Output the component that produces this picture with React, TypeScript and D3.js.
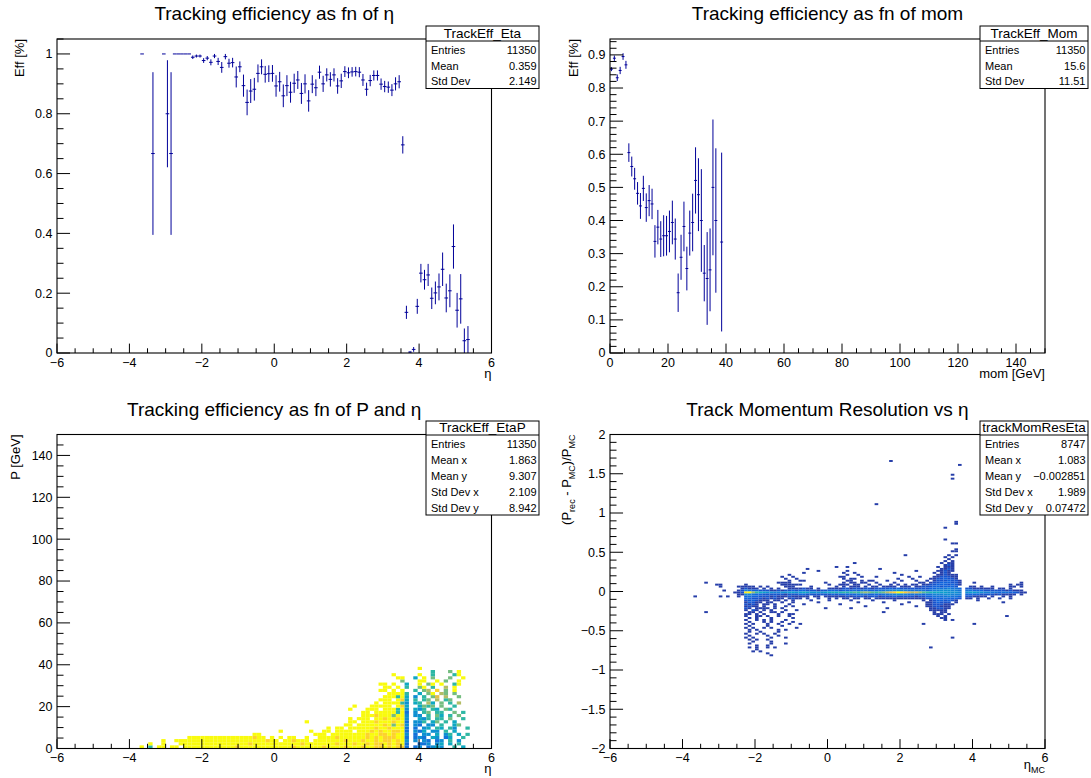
import React from "react";
import * as d3 from "d3";

const FONT = '"Liberation Sans", Arial, Helvetica, sans-serif';
const MARK = "#000099";

// ---------------- Tracking efficiency vs eta (bin width 0.1) ----------------
const etaBinWidth = 0.1;
const etaCenters = [-3.65, -3.35, -3.05, -2.95, -2.85, -2.75, -2.65, -2.55, -2.45, -2.35,
  -2.25, -2.15, -2.05, -1.95, -1.85, -1.75, -1.65, -1.55, -1.45, -1.35, -1.25, -1.15, -1.05, -0.95, -0.85, -0.75, -0.65, -0.55, -0.45, -0.35, -0.25, -0.15, -0.05,
  0.05, 0.15, 0.25, 0.35, 0.45, 0.55, 0.65, 0.75, 0.85, 0.95, 1.05, 1.15, 1.25, 1.35, 1.45, 1.55, 1.65, 1.75, 1.85, 1.95, 2.05, 2.15, 2.25, 2.35, 2.45, 2.55, 2.65, 2.75, 2.85, 2.95, 3.05, 3.15, 3.25, 3.35, 3.45, 3.55,
  3.65, 3.75, 3.85, 3.95, 4.05, 4.15, 4.25, 4.35, 4.45, 4.55, 4.65, 4.75, 4.85, 4.95, 5.05, 5.15, 5.25, 5.35];
const etaEff = [1.0, 0.667, 1.0, 0.8, 0.667, 1.0, 1.0, 1.0, 1.0, 1.0,
  0.989, 0.993, 0.993, 0.978, 0.986, 0.972, 0.993, 0.975, 0.955, 0.991, 0.969, 0.971, 0.923, 0.957, 0.894, 0.838, 0.876, 0.882, 0.935, 0.957, 0.932, 0.934, 0.935,
  0.893, 0.907, 0.860, 0.894, 0.872, 0.902, 0.913, 0.868, 0.900, 0.843, 0.899, 0.887, 0.939, 0.900, 0.930, 0.915, 0.930, 0.893, 0.910, 0.941, 0.937, 0.940, 0.941, 0.939, 0.913, 0.882, 0.911, 0.928, 0.928, 0.899, 0.891, 0.889, 0.879, 0.900, 0.907, 0.696,
  0.136, 0.003, 0.012, 0.156, 0.267, 0.245, 0.261, 0.183, 0.201, 0.221, 0.280, 0.184, 0.208, 0.356, 0.143, 0.181, 0.041, 0.045];
const etaErr = [0, 0.272, 0, 0.179, 0.272, 0, 0, 0, 0, 0,
  0.006, 0.005, 0.005, 0.008, 0.007, 0.010, 0.007, 0.012, 0.018, 0.009, 0.015, 0.016, 0.035, 0.018, 0.037, 0.043, 0.040, 0.038, 0.030, 0.025, 0.028, 0.028, 0.028,
  0.036, 0.033, 0.038, 0.035, 0.035, 0.032, 0.030, 0.035, 0.032, 0.036, 0.030, 0.028, 0.022, 0.027, 0.022, 0.024, 0.022, 0.026, 0.024, 0.018, 0.018, 0.016, 0.016, 0.017, 0.020, 0.022, 0.019, 0.017, 0.017, 0.019, 0.019, 0.019, 0.020, 0.022, 0.022, 0.029,
  0.022, 0.003, 0.008, 0.025, 0.031, 0.033, 0.037, 0.036, 0.038, 0.045, 0.056, 0.048, 0.055, 0.074, 0.058, 0.083, 0.041, 0.045];

// ---------------- Tracking efficiency vs momentum (bin width 1 GeV) ----------------
const momBinWidth = 1;
const momCenters = [0.5, 1.5, 2.5, 3.5, 4.5, 5.5, 6.5, 7.5, 8.5, 9.5, 10.5, 11.5, 12.5, 13.5, 14.5, 15.5, 16.5, 17.5, 18.5, 19.5,
  20.5, 21.5, 22.5, 23.5, 24.5, 25.5, 26.5, 27.5, 28.5, 29.5, 30.5, 31.5, 32.5, 33.5, 34.5, 35.5, 36.5, 38.5];
const momEff = [0.857, 0.890, 0.831, 0.853, 0.895, 0.870, 0.605, 0.563, 0.526, 0.482, 0.444, 0.497, 0.439, 0.460, 0.450, 0.337, 0.380, 0.344, 0.354, 0.354,
  0.367, 0.394, 0.344, 0.182, 0.289, 0.382, 0.255, 0.362, 0.394, 0.521, 0.478, 0.400, 0.241, 0.225, 0.251, 0.500, 0.400, 0.335];
const momErr = [0.006, 0.008, 0.010, 0.011, 0.010, 0.012, 0.028, 0.030, 0.033, 0.034, 0.039, 0.038, 0.043, 0.047, 0.046, 0.049, 0.052, 0.054, 0.062, 0.060,
  0.063, 0.066, 0.062, 0.058, 0.068, 0.075, 0.066, 0.068, 0.087, 0.100, 0.110, 0.155, 0.085, 0.140, 0.125, 0.205, 0.218, 0.270];

// ---------------- Efficiency vs (eta, P): 100x100 bins, eta bin 0.12, P bin 1.5 ----------------
// [P row n, first eta column m, cells]; 'y' = 1.0, digit d = d/10, '.' = empty
const effEtaBin = 0.12;
const effPBin = 1.5;
const effRows: [number, number, string][] = [
  [0, 19, "y.5.yy.yy." + "yyyyyyyyyy" + "yy9yyyyyyy" + "yyyyy9yyyy" + "yy9yyyy9yy" + "y9yy99y9y99"],
  [1, 19, "..y..y...y" + "yyyyyyyyyy" + "yyyyy9yyyy" + "yyyyyyy9yy" + "yyyyy9yyy9" + "yy9y99y9y9y"],
  [2, 19, ".....y..yy" + "yyyyyyyyyy" + "yyyyyyyyy9" + "yy.yy9yyy." + "yyyyyyy9yy" + "y9yy9y99y9y"],
  [3, 19, ".........." + ".yyyyyyyyy" + "yyyyyy9yy." + "y.y.yy..y." + ".yyyy9yyyy" + "yy9y9y999yy"],
  [4, 45, "yy"], [4, 59, "yyy.yyyyyy" + "yy9yy99y9yy"],
  [5, 51, "y"], [5, 58, "y"], [5, 59, "..yy.yyyy." + "yyy9y9yy99y"],
  [6, 59, "...y.yy.yy" + "yyyy9yy9yyy"],
  [7, 59, ".......yy." + "yyyyyy9y6y9"],
  [8, 57, "y"], [8, 59, "........yy" + ".yyy9yyy9yy"],
  [9, 67, "y"], [9, 69, "yyy.yy9yy9y"],
  [10, 69, ".yyy9yyy6yy"],
  [11, 69, ".yy.yyyyy5y"],
  [12, 67, "y"], [12, 69, "..yyy.yyy5y"],
  [13, 68, "y"], [13, 69, "...yyyyy.y9"],
  [14, 69, "....y.yyyy5"],
  [15, 69, ".....yyy.y9"],
  [16, 69, "......yyy5y"],
  [17, 69, ".......yyyy"],
  [18, 69, ".....yy.y.y"],
  [19, 69, "......yy.y."],
  [20, 69, ".....yy.y.."],
  [21, 79, "6"],
  [22, 78, "yy"],
  [23, 77, "y"],
  [0, 80, "2.23.2343..5.4."],
  [1, 80, "2..223.34.4.5.."],
  [2, 80, "3.3.32.23.5.3.."],
  [3, 80, "2.232.43.24..5."],
  [4, 80, "3.2.33.4.35.4.5"],
  [5, 80, "2.324.33.5.4..."],
  [6, 80, "2.2.34.54.53..5"],
  [7, 80, "3.32.33.5..46.."],
  [8, 80, "2.335.46.5.4..."],
  [9, 80, "3..435.55.6..5."],
  [10, 80, "3.33.5.64.5.6.."],
  [11, 80, "2.3.56.55..6.5."],
  [12, 80, "3.435.54.65...."],
  [13, 80, "4..4656.6..5..."],
  [14, 80, "3.45.74.6.5.7.."],
  [15, 80, "4.5.56.7.56...."],
  [16, 80, "4.3.5.68.7..6.."],
  [17, 80, "5..4.6y.76.6..."],
  [18, 80, "..5.67.9.6.y..."],
  [19, 80, "5..6y.5..7.y..."],
  [20, 80, "4..y.6y.y..5y.."],
  [21, 80, "...yy..y.6..y.."],
  [22, 80, "..4.y.6...6..y."],
  [23, 80, "...y..5....5y.."],
  [24, 80, "......5...6.y.."],
  [25, 80, "...y..........."],
];

// ---------------- Momentum resolution vs eta_MC: eta bin 0.1, y bin 0.025 ----------------
// [row r (y top = 0.4 - 0.025 r), first column k (eta low = -3.8 + 0.1 k), counts]; 1-9, a=10 ... k=20
const resEta0 = -3.8;
const resY0 = 0.4;
const resEtaBin = 0.1;
const resYBin = 0.025;
const resGrid: [number, number, string][] = [
  [0, 70, "1.1"],
  [1, 45, "1"], [1, 69, "1.11"],
  [2, 70, "121"],
  [3, 40, "1"], [3, 43, "1"], [3, 68, "1.111"],
  [4, 32, "1"], [4, 52, "1"], [4, 69, "1121"],
  [5, 35, "1"], [5, 43, "1"], [5, 62, "1"], [5, 68, "11211"],
  [6, 31, "1"], [6, 42, "1"], [6, 45, "1"], [6, 56, "1"], [6, 67, "1.121"],
  [7, 27, "1"], [7, 43, "1"], [7, 46, "1"], [7, 58, "1"], [7, 68, "112111"],
  [8, 25, "1..1"], [8, 41, "11"], [8, 47, "1"], [8, 51, "1"], [8, 60, "1..1"], [8, 67, "1122211"],
  [9, 26, "1..1"], [9, 42, "1.1"], [9, 45, "1"], [9, 57, "1"], [9, 61, "1"], [9, 66, "11223221"],
  [10, 27, "1..11"], [10, 43, "11..1.11...1...1"], [10, 62, "1..1.12223221"],
  [11, 4, "1"], [11, 24, "1111"], [11, 37, "1"], [11, 42, "1.11.11"], [11, 51, "1"], [11, 56, "1"], [11, 63, "11.122333221"], [11, 78, "1"], [11, 91, "1"],
  [12, 7, "11"], [12, 15, "1"], [12, 25, "111111"], [12, 38, "1"], [12, 41, "111.11..1"], [12, 52, "1..1.1.1.11.11223332321"], [12, 88, "1.11"],
  [13, 8, "1"], [13, 13, "11111.1.1"], [13, 26, "111"], [13, 33, "1"], [13, 40, "1.1.111.1.11.1111.11"], [13, 60, "1.112223323332"], [13, 77, "11.1..1....11.1"],
  [14, 13, ".12111.1.1" + ".1..111121" + "1.1..11112" + "2122122122" + "2232322222" + "2223344454" + "43.2211111" + "1.11.1...."],
  [15, 9, "1"],
  [15, 13, "1254332221" + "1212232332" + "2212233323" + "3343443334" + "4556655444" + "4434556665" + "54.4433322" + "222212111."],
  [16, 12, "1"],
  [16, 13, "12jkda8766" + "5566776787" + "666678989a" + "9abacdcbab" + "cegikjhfef" + "dba9887766" + "65.6776655" + "4434433211"],
  [17, 13, "1165433222" + "2221222332" + "2222223233" + "3334443333" + "4455655444" + "4344555665" + "55.3333222" + "2121111.1."],
  [18, 0, ".1......1." + "1..1.34332" + "2212111211" + "111.11.111" + "1112122212" + "2212223222" + "2212233444" + "45443.2211" + "11.1..1.1...."],
  [19, 14, ".332221212" + "11.1211.1." + ".1..1.1.11" + ".11.11.111" + "1111111111" + "1223334333" + "2.11.1..1." + ".1..1...."],
  [20, 15, "2232111.11.1.1"], [20, 33, "1"], [20, 38, "1"], [20, 44, "1"], [20, 50, "1"], [20, 56, "1"], [20, 64, "1.12332321"], [20, 79, "1"],
  [21, 15, "13211.11..1..1"], [21, 35, "1"], [21, 46, "1"], [21, 53, "1"], [21, 60, "1"], [21, 65, "1123222.1"], [21, 86, "1"],
  [22, 15, "2121.11.1...1"], [22, 31, "1"], [22, 41, "1"], [22, 58, "1"], [22, 65, "11222111"],
  [23, 15, "1211.1..1..1.1"], [23, 48, "1"], [23, 62, "1"], [23, 65, "1122111"],
  [24, 15, "21.1111.1.1"], [24, 37, "1"], [24, 44, "1"], [24, 54, "1"], [24, 66, "112211"],
  [25, 15, "1.21.1.1...1..1"], [25, 66, "11111"],
  [26, 4, "1"], [26, 15, ".11.1..11.1"], [26, 53, "1"], [26, 67, "1.11"],
  [27, 15, "11.1.1...1..11"], [27, 67, "111.1"],
  [28, 15, "1..11.1..1..1"], [28, 68, "1.1"], [28, 87, "1"],
  [29, 16, "1.1...1.....1"], [29, 69, "11"],
  [30, 15, "1..1.1.1...1"], [30, 70, "1.1"],
  [31, 15, ".1...1.1..1..1"],
  [32, 15, "1.1...1..1..1..1"], [32, 64, "1"], [32, 78, "1"],
  [33, 16, "1....1...1"],
  [34, 15, "1.1..1.1......1"],
  [35, 16, "1.1.....1.1"],
  [36, 15, ".1..1....1"],
  [37, 15, "1..1.1..1"],
  [38, 16, "1....1..1"],
  [39, 15, "1.1....1...1"], [39, 72, "1"],
  [40, 16, "1.1..1"],
  [41, 15, "..1....1"],
  [42, 16, "1.....1...1"],
  [43, 18, "1..1"],
  [44, 16, "1.1..1.1"], [44, 66, "1"],
  [45, 18, "1"],
  [46, 17, "1.1"],
  [47, 21, "1"],
  [48, 22, "1"],
];
// single-count cells far from the band: [eta, y]
const resHighEta = [1.75, 3.65, 3.45, 3.45, 1.35, 3.55, 3.55, 3.25, 3.25, 3.45, 3.55, 3.55, 2.15, 3.35, 3.45, 3.55, 3.45, 3.35, 3.55, 3.25];
const resHighY = [1.67, 1.61, 1.49, 1.44, 1.11, 0.88, 0.86, 0.80, 0.66, 0.60, 0.61, 0.54, 0.46, 0.46, 0.50, 0.47, 0.43, 0.41, 0.52, 0.44];

// ---------------- kBird palette ----------------
const birdStops = [0, 0.125, 0.25, 0.375, 0.5, 0.625, 0.75, 0.875, 1];
const birdColors = ["rgb(53,42,135)", "rgb(15,92,221)", "rgb(20,129,214)", "rgb(6,164,202)", "rgb(46,183,164)",
  "rgb(135,191,119)", "rgb(209,187,89)", "rgb(254,200,50)", "rgb(249,251,14)"];
const bird = d3.scaleLinear<string>().domain(birdStops).range(birdColors).interpolate(d3.interpolateRgb).clamp(true);

// ---------------- stats boxes ----------------
const statsEtaLabels = ["Entries", "Mean", "Std Dev"];
const statsEtaValues = ["11350", "0.359", "2.149"];
const statsMomLabels = ["Entries", "Mean", "Std Dev"];
const statsMomValues = ["11350", "15.6", "11.51"];
const statsEtaPLabels = ["Entries", "Mean x", "Mean y", "Std Dev x", "Std Dev y"];
const statsEtaPValues = ["11350", "1.863", "9.307", "2.109", "8.942"];
const statsResLabels = ["Entries", "Mean x", "Mean y", "Std Dev x", "Std Dev y"];
const statsResValues = ["8747", "1.083", "\u22120.002851", "1.989", "0.07472"];

// ---------------- axis ticks ----------------
const etaMajor = [-6, -4, -2, 0, 2, 4, 6];
const effMajor = [0, 0.2, 0.4, 0.6, 0.8, 1];
const momMajor = [0, 20, 40, 60, 80, 100, 120, 140];
const momEffMajor = [0, 0.1, 0.2, 0.3, 0.4, 0.5, 0.6, 0.7, 0.8, 0.9];
const pMajor = [0, 20, 40, 60, 80, 100, 120, 140];
const resMajor = [-2, -1.5, -1, -0.5, 0, 0.5, 1, 1.5, 2];

type Frame = { x0: number; x1: number; y0: number; y1: number };
type Box = { x0: number; x1: number; y0: number; ySep: number; y1: number; title: string; labels: string[]; values: string[] };
type Scale = d3.ScaleLinear<number, number>;

const fmt = (v: number) => (v < 0 ? "\u2212" : "") + String(+Math.abs(v).toFixed(3));

function minorTicks(domain: [number, number], step: number): number[] {
  const a = Math.ceil(domain[0] / step - 1e-6);
  const b = Math.floor(domain[1] / step + 1e-6);
  return d3.range(a, b + 1).map((i) => i * step);
}

function StatsBox({ b }: { b: Box }) {
  const n = b.labels.length;
  const rowH = (b.y1 - b.ySep) / n;
  return (
    <g>
      <rect x={b.x0} y={b.y0} width={b.x1 - b.x0} height={b.y1 - b.y0} fill="#fff" stroke="#000" strokeWidth={1} />
      <line x1={b.x0} x2={b.x1} y1={b.ySep} y2={b.ySep} stroke="#000" strokeWidth={1} />
      <text x={(b.x0 + b.x1) / 2} y={b.ySep - 3.5} textAnchor="middle" fontSize={13.5}>{b.title}</text>
      {b.labels.map((l, i) => (
        <g key={i}>
          <text x={b.x0 + 5} y={b.ySep + rowH * (i + 0.8)} fontSize={11}>{l}</text>
          <text x={b.x1 - 2.5} y={b.ySep + rowH * (i + 0.8)} fontSize={11} textAnchor="end">{b.values[i]}</text>
        </g>
      ))}
    </g>
  );
}

function Panel(p: {
  id: string; f: Frame; xDomain: [number, number]; yDomain: [number, number];
  xMajor: number[]; xMinor: number; yMajor: number[]; yMinor: number;
  title: string; titleY: number; xTitle: React.ReactNode; xTitleY: number;
  yTitle: React.ReactNode; yTitleX: number; box: Box;
  draw: (xs: Scale, ys: Scale) => React.ReactNode;
}) {
  const f = p.f;
  const xs = d3.scaleLinear().domain(p.xDomain).range([f.x0, f.x1]);
  const ys = d3.scaleLinear().domain(p.yDomain).range([f.y1, f.y0]);
  const fw = f.x1 - f.x0, fh = f.y1 - f.y0;
  const xMaj = 0.03 * fh, yMaj = 0.03 * fw;
  const xMin = minorTicks(p.xDomain, p.xMinor);
  const yMin = minorTicks(p.yDomain, p.yMinor);
  return (
    <g>
      <defs>
        <clipPath id={p.id}><rect x={f.x0} y={f.y0} width={fw} height={fh} /></clipPath>
      </defs>
      <g clipPath={`url(#${p.id})`}>{p.draw(xs, ys)}</g>
      <rect x={f.x0} y={f.y0} width={fw} height={fh} fill="none" stroke="#000" strokeWidth={1.1} />
      <g stroke="#000" strokeWidth={1}>
        {xMin.map((v, i) => (
          <line key={"xm" + i} x1={xs(v)} x2={xs(v)} y1={f.y1} y2={f.y1 - (p.xMajor.some((m) => Math.abs(m - v) < 1e-6) ? xMaj : xMaj / 2)} />
        ))}
        {yMin.map((v, i) => (
          <line key={"ym" + i} x1={f.x0} x2={f.x0 + (p.yMajor.some((m) => Math.abs(m - v) < 1e-6) ? yMaj : yMaj / 2)} y1={ys(v)} y2={ys(v)} />
        ))}
      </g>
      <g fontSize={12.5}>
        {p.xMajor.map((v, i) => (
          <text key={"xl" + i} x={xs(v)} y={f.y1 + 13.5} textAnchor="middle">{fmt(v)}</text>
        ))}
        {p.yMajor.map((v, i) => (
          <text key={"yl" + i} x={f.x0 - 4.5} y={ys(v) + 4.4} textAnchor="end">{fmt(v)}</text>
        ))}
      </g>
      <text x={(f.x0 + f.x1) / 2} y={p.titleY} textAnchor="middle" fontSize={19}>{p.title}</text>
      <text x={f.x1} y={p.xTitleY} textAnchor="end" fontSize={13}>{p.xTitle}</text>
      <text transform={`translate(${p.yTitleX},${f.y0}) rotate(-90)`} textAnchor="end" fontSize={13}>{p.yTitle}</text>
      <StatsBox b={p.box} />
    </g>
  );
}

function effChar(ch: string): number | null {
  if (ch === "y") return 1;
  if (ch >= "0" && ch <= "9") return +ch / 10;
  return null;
}
function countChar(ch: string): number {
  if (ch === ".") return 0;
  if (ch >= "1" && ch <= "9") return +ch;
  return ch.charCodeAt(0) - 87;
}

function drawEff(centers: number[], eff: number[], err: number[], bw: number) {
  return (xs: Scale, ys: Scale) => (
    <g stroke={MARK} strokeWidth={1}>
      {centers.map((c, i) => {
        const yv = ys(eff[i]);
        const hi = Math.min(eff[i] + err[i], 1);
        const lo = Math.max(eff[i] - err[i], 0);
        return (
          <g key={i}>
            <line x1={xs(c - bw / 2)} x2={xs(c + bw / 2)} y1={yv} y2={yv} />
            {err[i] > 0 ? <line x1={xs(c)} x2={xs(c)} y1={ys(hi)} y2={ys(lo)} /> : null}
          </g>
        );
      })}
    </g>
  );
}

function drawEffMap(xs: Scale, ys: Scale) {
  const cells: React.ReactNode[] = [];
  effRows.forEach(([n, m0, s], ri) => {
    for (let j = 0; j < s.length; j++) {
      const v = effChar(s[j]);
      if (v === null) continue;
      const m = m0 + j;
      const e0 = -6 + effEtaBin * m;
      const p0 = effPBin * n;
      cells.push(
        <rect key={ri + "_" + j} x={xs(e0)} y={ys(p0 + effPBin)} width={xs(e0 + effEtaBin) - xs(e0)}
          height={ys(p0) - ys(p0 + effPBin)} fill={bird(v)} />
      );
    }
  });
  return <g>{cells}</g>;
}

function drawResMap(xs: Scale, ys: Scale) {
  const zmax = 20;
  const cells: React.ReactNode[] = [];
  resGrid.forEach(([r, k0, s], ri) => {
    for (let j = 0; j < s.length; j++) {
      const c = countChar(s[j]);
      if (c <= 0) continue;
      const e0 = resEta0 + resEtaBin * (k0 + j);
      const yt = resY0 - resYBin * r;
      cells.push(
        <rect key={ri + "_" + j} x={xs(e0)} y={ys(yt)} width={xs(e0 + resEtaBin) - xs(e0)}
          height={ys(yt - resYBin) - ys(yt)} fill={bird(c / zmax)} />
      );
    }
  });
  resHighEta.forEach((eta, i) => {
    const e0 = -6 + resEtaBin * Math.floor((eta + 6) / resEtaBin + 1e-6);
    const y0 = -2 + resYBin * Math.floor((resHighY[i] + 2) / resYBin + 1e-6);
    cells.push(
      <rect key={"h" + i} x={xs(e0)} y={ys(y0 + resYBin)} width={xs(e0 + resEtaBin) - xs(e0)}
        height={ys(y0) - ys(y0 + resYBin)} fill={bird(1 / zmax)} />
    );
  });
  return <g>{cells}</g>;
}

export default function App() {
  const fTL: Frame = { x0: 57, x1: 491.5, y0: 39, y1: 353 };
  const fTR: Frame = { x0: 610, x1: 1045, y0: 39, y1: 353 };
  const fBL: Frame = { x0: 57, x1: 491.5, y0: 434.5, y1: 748.5 };
  const fBR: Frame = { x0: 610, x1: 1045, y0: 434.5, y1: 748.5 };
  return (
    <svg width={1091} height={778} style={{ position: "absolute", left: 0, top: 0 }} fontFamily={FONT}>
      <rect width={1091} height={778} fill="#fff" />
      <Panel id="c1" f={fTL} xDomain={[-6, 6]} yDomain={[0, 1.05]} xMajor={etaMajor} xMinor={0.5} yMajor={effMajor} yMinor={0.05}
        title="Tracking efficiency as fn of η" titleY={19.5} xTitle="η" xTitleY={377.5} yTitle="Eff [%]" yTitleX={24}
        box={{ x0: 426, x1: 539, y0: 26, ySep: 41, y1: 88.5, title: "TrackEff_Eta", labels: statsEtaLabels, values: statsEtaValues }}
        draw={drawEff(etaCenters, etaEff, etaErr, etaBinWidth)} />
      <Panel id="c2" f={fTR} xDomain={[0, 150]} yDomain={[0, 0.948]} xMajor={momMajor} xMinor={5} yMajor={momEffMajor} yMinor={0.02}
        title="Tracking efficiency as fn of mom" titleY={19.5} xTitle="mom [GeV]" xTitleY={378} yTitle="Eff [%]" yTitleX={578}
        box={{ x0: 980, x1: 1088, y0: 26, ySep: 41, y1: 88.5, title: "TrackEff_Mom", labels: statsMomLabels, values: statsMomValues }}
        draw={drawEff(momCenters, momEff, momErr, momBinWidth)} />
      <Panel id="c3" f={fBL} xDomain={[-6, 6]} yDomain={[0, 150]} xMajor={etaMajor} xMinor={0.5} yMajor={pMajor} yMinor={5}
        title="Tracking efficiency as fn of P and η" titleY={415.5} xTitle="η" xTitleY={772.5} yTitle="P [GeV]" yTitleX={20}
        box={{ x0: 426, x1: 539, y0: 421, ySep: 435, y1: 515, title: "TrackEff_EtaP", labels: statsEtaPLabels, values: statsEtaPValues }}
        draw={drawEffMap} />
      <Panel id="c4" f={fBR} xDomain={[-6, 6]} yDomain={[-2, 2]} xMajor={etaMajor} xMinor={0.5} yMajor={resMajor} yMinor={0.1}
        title="Track Momentum Resolution vs η" titleY={415.5}
        xTitle={<>η<tspan fontSize={9} dy={4}>MC</tspan></>} xTitleY={769}
        yTitle={<>(P<tspan fontSize={9} dy={4}>rec</tspan><tspan dy={-4}> - P</tspan><tspan fontSize={9} dy={4}>MC</tspan><tspan dy={-4}>)/P</tspan><tspan fontSize={9} dy={4}>MC</tspan></>}
        yTitleX={571}
        box={{ x0: 980, x1: 1088, y0: 421, ySep: 435, y1: 515, title: "trackMomResEta", labels: statsResLabels, values: statsResValues }}
        draw={drawResMap} />
    </svg>
  );
}
